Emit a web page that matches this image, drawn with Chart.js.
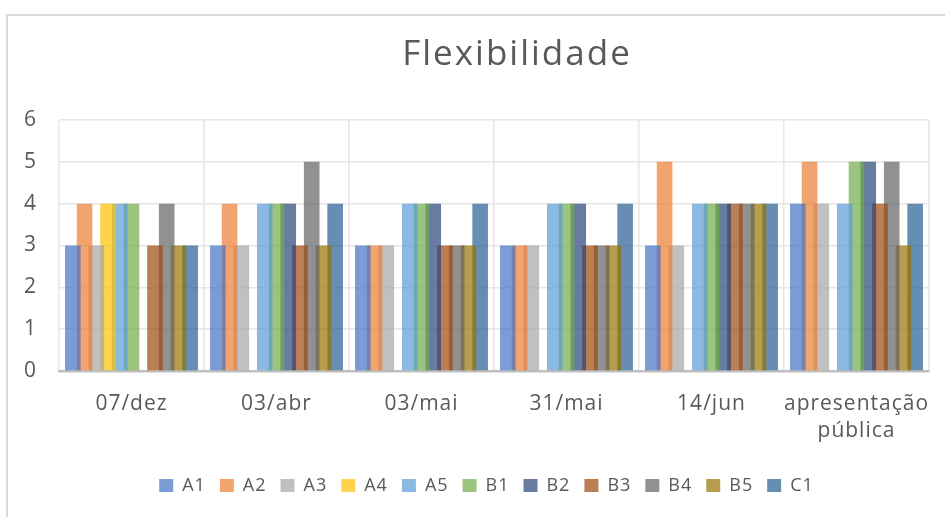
<!DOCTYPE html>
<html>
<head>
<meta charset="utf-8">
<script src="https://cdn.jsdelivr.net/npm/chart.js@4/dist/chart.umd.min.js"></script>
<style>
  html, body { margin: 0; padding: 0; background: #ffffff; }
  #wrap { position: relative; width: 945px; height: 517px; overflow: hidden; }
  #frame { position: absolute; left: 6px; top: 14px; width: 1100px; height: 700px;
           border: 2px solid #d9d9d9; box-sizing: border-box; }
  canvas { position: absolute; left: 0; top: 0; }
</style>
</head>
<body>
<div id="wrap">
  <div id="frame"></div>
  <canvas id="c" width="945" height="517"></canvas>
</div>
<script>
const chartTitle = 'Flexibilidade';
const categories = ['07/dez', '03/abr', '03/mai', '31/mai', '14/jun', ['apresentação', 'pública']];
const yTicks = [0, 1, 2, 3, 4, 5, 6];

const seriesNames = ['A1', 'A2', 'A3', 'A4', 'A5', 'B1', 'B2', 'B3', 'B4', 'B5', 'C1'];
const A1 = [3, 3, 3, 3, 3, 4];
const A2 = [4, 4, 3, 3, 5, 5];
const A3 = [3, 3, 3, 3, 3, 4];
const A4 = [4, null, null, null, null, null];
const A5 = [4, 4, 4, 4, 4, 4];
const B1 = [4, 4, 4, 4, 4, 5];
const B2 = [null, 4, 4, 4, 4, 5];
const B3 = [3, 3, 3, 3, 4, 4];
const B4 = [4, 5, 3, 3, 4, 5];
const B5 = [3, 3, 3, 3, 4, 3];
const C1 = [3, 4, 4, 4, 4, 4];
const seriesValues = [A1, A2, A3, A4, A5, B1, B2, B3, B4, B5, C1];
const seriesColors = [
  'rgba(68,114,196,0.7)', 'rgba(237,125,49,0.7)', 'rgba(165,165,165,0.7)',
  'rgba(255,192,0,0.7)', 'rgba(91,155,213,0.7)', 'rgba(112,173,71,0.7)',
  'rgba(38,68,120,0.7)', 'rgba(158,72,14,0.7)', 'rgba(99,99,99,0.7)',
  'rgba(153,115,0,0.7)', 'rgba(37,94,145,0.7)'
];

const FONT = '"Open Sans", "DejaVu Sans", sans-serif';
const TEXT = '#595959';

const spacingPlugin = {
  id: 'spacing',
  beforeUpdate(chart) { try { chart.ctx.letterSpacing = '1px'; } catch (e) {} },
  beforeDraw(chart) { try { chart.ctx.letterSpacing = '1px'; } catch (e) {} },
  afterLayout(chart) {
    if (chart.legend) { chart.legend.left += 22; chart.legend.right += 22; }
  }
};

const titlePlugin = {
  id: 'customTitle',
  afterDraw(chart) {
    const ctx = chart.ctx;
    ctx.save();
    ctx.font = '35px ' + FONT;
    ctx.fillStyle = TEXT;
    ctx.textAlign = 'center';
    ctx.textBaseline = 'middle';
    try { ctx.letterSpacing = '2px'; } catch (e) {}
    ctx.fillText(chartTitle, 517, 55);
    ctx.restore();
  }
};

new Chart(document.getElementById('c'), {
  type: 'bar',
  data: {
    labels: categories,
    datasets: seriesNames.map((n, i) => ({
      label: n,
      data: seriesValues[i],
      backgroundColor: seriesColors[i],
      borderWidth: 0,
      categoryPercentage: 0.89,
      barPercentage: 1.33
    }))
  },
  options: {
    responsive: false,
    animation: false,
    layout: { padding: { top: 120, right: 16, left: 0, bottom: 12.5 } },
    plugins: {
      title: { display: false },
      tooltip: { enabled: false },
      legend: {
        position: 'bottom',
        labels: {
          boxWidth: 14, boxHeight: 13, padding: 14,
          color: TEXT,
          font: { family: FONT, size: 18 }
        }
      }
    },
    scales: {
      x: {
        grid: { color: '#e6e6e6', lineWidth: 1.5, drawTicks: false, offset: true },
        border: { color: '#bfbfbf', width: 2.5 },
        ticks: { color: TEXT, font: { family: FONT, size: 21, lineHeight: 1.3 }, padding: 19, maxRotation: 0, autoSkip: false },
        afterFit(scale) { scale.height = 91.5; scale.paddingLeft = 0; scale.paddingRight = 0; }
      },
      y: {
        min: 0, max: 6,
        afterBuildTicks(scale) { scale.ticks = yTicks.map(v => ({ value: v })); },
        grid: { color: '#e6e6e6', lineWidth: 1.5, drawTicks: false },
        border: { display: false },
        ticks: { color: TEXT, font: { family: FONT, size: 21 }, padding: 22 },
        afterFit(scale) { scale.width = 59; scale.paddingTop = 0; scale.paddingBottom = 0; }
      }
    }
  },
  plugins: [spacingPlugin, titlePlugin]
});
</script>
</body>
</html>
